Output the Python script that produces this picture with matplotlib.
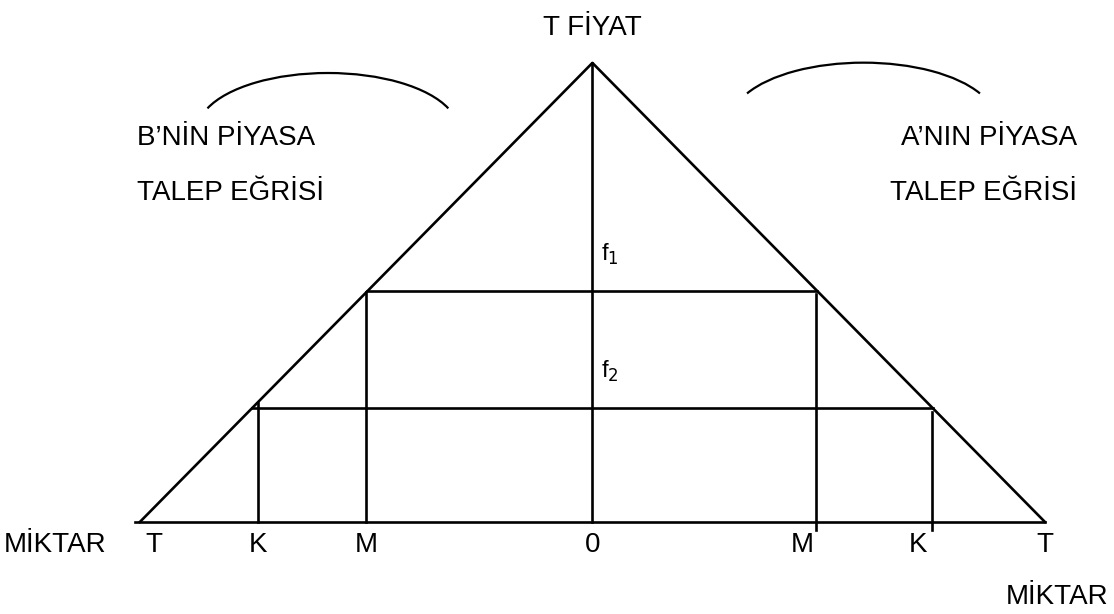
import numpy as np
import matplotlib.pyplot as plt
from matplotlib.patches import Arc

plt.rcParams['font.family'] = ['Liberation Sans', 'DejaVu Sans']

# demand: price = 1 - |quantity|  (T = 1 at both ends)
t_qty = 1.0
prices = [0.503, 0.248]            # f1, f2
price_labels = ['f$_1$', 'f$_2$']
left_qty = [-0.50, -0.74]          # M, K on B's side
right_qty = [0.493, 0.75]          # M, K on A's side
qty_labels = ['M', 'K']

fig = plt.figure(figsize=(11.14, 6.14), dpi=100)
ax = fig.add_axes([0, 0, 1, 1])
ax.set_xlim(-1.309, 1.1525)
ax.set_ylim(-0.2004, 1.137)
ax.axis('off')

lw = 1.9
# triangle (two demand curves) and axes
ax.plot([-t_qty, 0, t_qty], [0, 1, 0], color='black', lw=lw)
ax.plot([-1.01, t_qty], [0, 0], color='black', lw=lw)
ax.plot([0, 0], [0, 1], color='black', lw=lw)

# price levels
for p, ql, qr, lab in zip(prices, left_qty, right_qty, price_labels):
    ax.plot([-(1 - p), 1 - p], [p, p], color='black', lw=lw)
    ax.plot([ql, ql], [0, 1 + ql], color='black', lw=lw)
    ax.plot([qr, qr], [-0.017, 1 - qr - 0.01], color='black', lw=lw)
    ax.text(0.018, p + 0.08, lab, fontsize=17, ha='left', va='center')

fs = 20
ylab = -0.05
ax.text(-t_qty + 0.03, ylab, 'T', fontsize=fs, ha='center', va='center')
ax.text(t_qty, ylab, 'T', fontsize=fs, ha='center', va='center')
ax.text(0, ylab, '0', fontsize=fs, ha='center', va='center')
for q, lab in zip(left_qty, qty_labels):
    ax.text(q, ylab, lab, fontsize=fs, ha='center', va='center')
for q, lab in zip(right_qty, qty_labels):
    ax.text(q - 0.03, ylab, lab, fontsize=fs, ha='center', va='center')

ax.text(-1.30, ylab, 'MİKTAR', fontsize=fs, ha='left', va='center')
ax.text(1.14, -0.163, 'MİKTAR', fontsize=fs, ha='right', va='center')
ax.text(0, 1.075, 'T FİYAT', fontsize=fs, ha='center', va='center')

ax.text(-1.007, 0.837, 'B’NİN PİYASA', fontsize=fs, ha='left', va='center')
ax.text(-1.007, 0.717, 'TALEP EĞRİSİ', fontsize=fs, ha='left', va='center')
ax.text(1.071, 0.837, 'A’NIN PİYASA', fontsize=fs, ha='right', va='center')
ax.text(1.071, 0.717, 'TALEP EĞRİSİ', fontsize=fs, ha='right', va='center')

# brace-like arcs above the labels
ax.add_patch(Arc((-0.5845, 0.854), 0.575, 0.248, theta1=10, theta2=170,
                 color='black', lw=1.6))
ax.add_patch(Arc((0.599, 0.874), 0.583, 0.253, theta1=13, theta2=167,
                 color='black', lw=1.6))

fig.savefig('out.png', dpi=100)
